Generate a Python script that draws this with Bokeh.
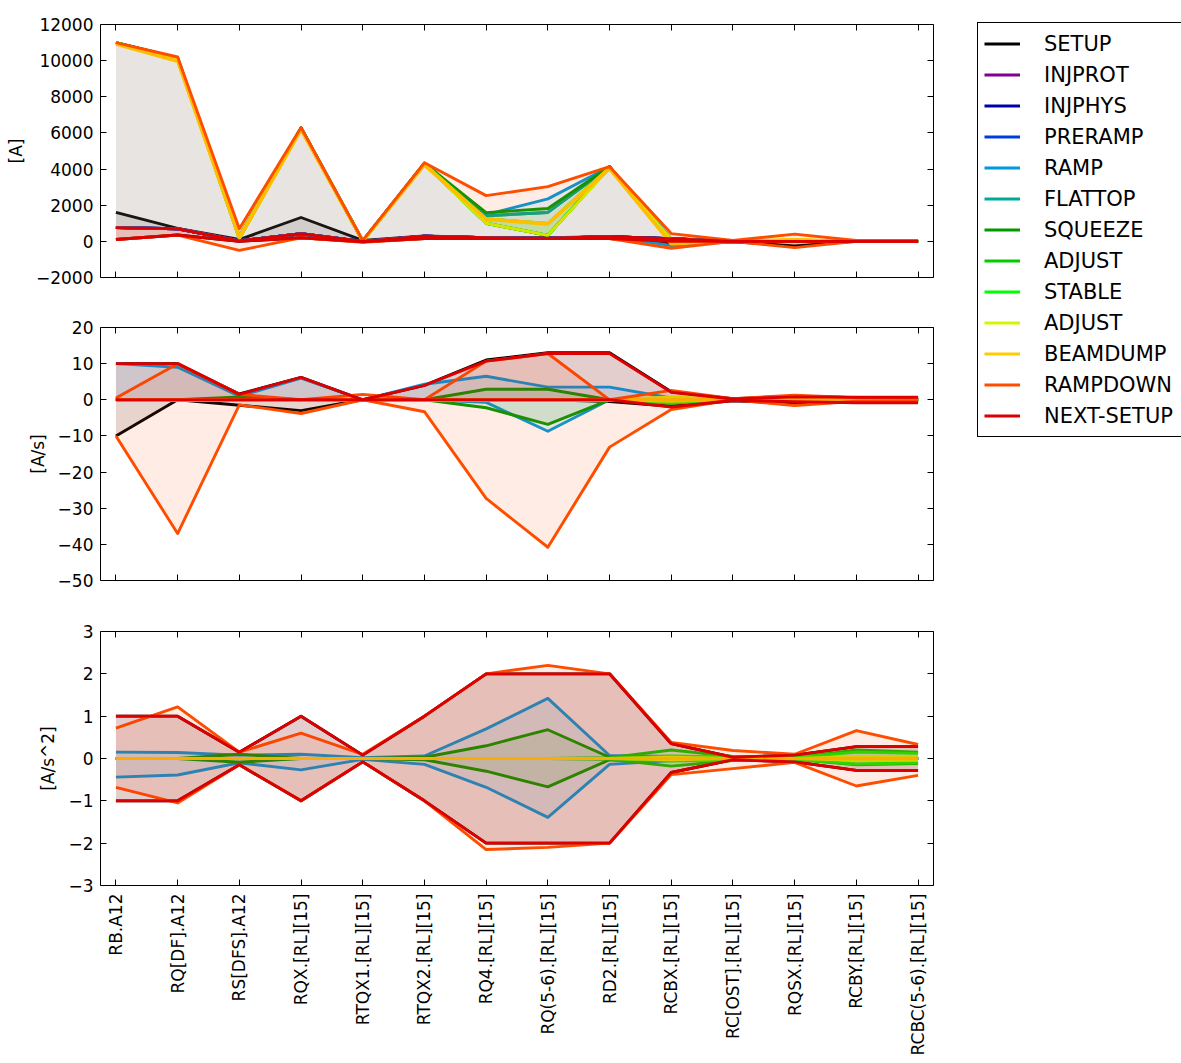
import math
from bokeh.plotting import figure
from bokeh.models import Range1d, FixedTicker, LinearAxis, Legend, LegendItem
from bokeh.layouts import column, row
from bokeh.embed import file_html
from bokeh.resources import INLINE

# ---------------- data ----------------
CATEGORIES = ["RB.A12", "RQ[DF].A12", "RS[DFS].A12", "RQX.[RL][15]", "RTQX1.[RL][15]",
              "RTQX2.[RL][15]", "RQ4.[RL][15]", "RQ(5-6).[RL][15]", "RD2.[RL][15]",
              "RCBX.[RL][15]", "RC[OST].[RL][15]", "RQSX.[RL][15]", "RCBY.[RL][15]",
              "RCBC(5-6).[RL][15]"]

PHASES = ["SETUP", "INJPROT", "INJPHYS", "PRERAMP", "RAMP", "FLATTOP", "SQUEEZE",
          "ADJUST", "STABLE", "ADJUST", "BEAMDUMP", "RAMPDOWN", "NEXT-SETUP"]
PHASE_COLORS = ["#000000", "#800091", "#0000aa", "#003bdd", "#0099dd", "#00aa99", "#009900",
                "#00cc00", "#00ff00", "#d4f600", "#ffcc00", "#ff4d00", "#dd0000"]

Y1_TICKS = [-2000, 0, 2000, 4000, 6000, 8000, 10000, 12000]
Y1_LABELS = ["\u22122000", "0", "2000", "4000", "6000", "8000", "10000", "12000"]
Y2_TICKS = [-50, -40, -30, -20, -10, 0, 10, 20]
Y2_LABELS = ["\u221250", "\u221240", "\u221230", "\u221220", "\u221210", "0", "10", "20"]
Y3_TICKS = [-3, -2, -1, 0, 1, 2, 3]
Y3_LABELS = ["\u22123", "\u22122", "\u22121", "0", "1", "2", "3"]

# current [A]
INJ_LEVEL = [760, 700, 30, 420, 0, 280, 200, 180, 260, 150, 0, 0, 0, 0]
SETUP_I_MAX = [1600, 720, 100, 1320, 50, 300, 200, 200, 260, 150, 20, 0, 0, 0]
SETUP_I_MIN = [100, 350, 0, 200, -30, 160, 150, 150, 160, -100, -20, -250, 0, 0]
RAMP_I_MAX = [11000, 10150, 300, 6280, 40, 4320, 1480, 2350, 4130, 150, 20, 0, 0, 0]
RAMP_I_MIN = [760, 700, 30, 420, 0, 280, 200, 180, 260, -230, -20, 0, 0, 0]
FLATTOP_I = [11000, 10150, 200, 6280, 20, 4320, 1420, 1600, 4130, -30, 0, 0, 0, 0]
SQUEEZE_I_MAX = [11000, 10150, 250, 6280, 20, 4320, 1590, 1820, 4130, 50, 20, 50, 0, 0]
SQUEEZE_I_MIN = [11000, 10150, 150, 6280, 0, 4300, 1000, 330, 4130, -100, -20, 0, 0, 0]
ADJUST_I_MAX = [11000, 10100, 250, 6250, 20, 4300, 1250, 990, 4100, 50, 0, 50, 0, 0]
ADJUST_I_MIN = [11000, 10100, 150, 6250, 0, 4300, 1000, 330, 4100, -100, 0, 0, 0, 0]
STABLE_I_MAX = [11000, 10100, 200, 6250, 10, 4300, 1000, 330, 4100, 0, 0, 50, 0, 0]
STABLE_I_MIN = [11000, 10100, 200, 6250, 0, 4300, 1000, 330, 4100, -50, 0, 0, 0, 0]
ADJUST2_I_MAX = [11000, 10050, 250, 6220, 20, 4280, 1250, 990, 4080, 100, 0, 100, 0, 0]
ADJUST2_I_MIN = [10950, 10000, 150, 6200, 0, 4250, 1000, 330, 4050, -100, 0, 0, 0, 0]
BEAMDUMP_I_MAX = [10950, 10000, 250, 6200, 20, 4250, 1240, 985, 4050, -100, 0, 100, 0, 0]
BEAMDUMP_I_MIN = [10900, 9950, 150, 6150, 0, 4200, 1200, 950, 4000, -150, 0, 0, 0, 0]
RAMPDOWN_I_MAX = [11000, 10200, 700, 6300, 50, 4350, 2530, 3030, 4130, 430, 50, 400, 50, 50]
RAMPDOWN_I_MIN = [100, 350, -500, 200, -50, 150, 150, 150, 150, -380, 0, -350, 0, 0]
NEXTSETUP_I_MAX = [760, 700, 30, 420, 0, 280, 200, 180, 260, 150, 0, 0, 0, 0]
NEXTSETUP_I_MIN = [100, 350, 0, 200, -30, 160, 150, 150, 160, 0, 0, 0, 0, 0]

# ramp rate [A/s]
ZERO_RATE = [0, 0, 0, 0, 0, 0, 0, 0, 0, 0, 0, 0, 0, 0]
SETUP_DI_MAX = [10, 10, 1.6, 6.2, 0, 4, 11, 13, 13, 2.2, 0.3, 1.0, 0.6, 0.6]
SETUP_DI_MIN = [-10, 0, -1.5, -3, 0, 0, 0, 0, -0.5, -1.8, -0.3, -1.0, -0.6, -0.6]
RAMP_DI_MAX = [10, 9, 1, 6, 0, 4.3, 6.5, 3.5, 3.5, 0.5, 0, 0.2, 0, 0]
RAMP_DI_MIN = [0, 0, 0, 0, 0, 0, -0.7, -8.7, 0, -0.5, 0, 0, 0, 0]
SQUEEZE_DI_MAX = [0, 0, 0.8, 0, 0, 0, 2.9, 2.9, 0, 0.3, 0, 0, 0, 0]
SQUEEZE_DI_MIN = [0, 0, 0, 0, 0, 0, -2.2, -6.8, 0, -0.3, 0, 0, 0, 0]
ADJUST_DI_MAX = [0, 0, 0, 0, 0, 0, 0, 0, 0, 0.6, 0, 0.2, 0.2, 0.2]
ADJUST_DI_MIN = [0, 0, 0, 0, 0, 0, 0, 0, 0, -1.0, 0, -0.2, -0.2, -0.2]
STABLE_DI_MAX = [0, 0, 0, 0, 0, 0, 0, 0, 0, 0.3, 0, 0, 0.1, 0.1]
STABLE_DI_MIN = [0, 0, 0, 0, 0, 0, 0, 0, 0, -0.8, 0, 0, -0.1, -0.1]
ADJUST2_DI_MAX = [0, 0, 0, 0, 0, 0, 0, 0, 0, 0.8, 0, 0.1, 0.1, 0.1]
ADJUST2_DI_MIN = [0, 0, 0, 0, 0, 0, 0, 0, 0, -0.4, 0, 0, -0.1, -0.1]
RAMPDOWN_DI_MAX = [0.5, 10, 1.5, 0, 1.5, 0, 10.7, 12.8, 0, 2.6, 0.3, 1.3, 0.6, 0.5]
RAMPDOWN_DI_MIN = [-10, -37, -1.4, -3.8, 0, -3.3, -27.3, -40.8, -13.1, -2.7, 0, -1.6, -0.4, -0.3]
NEXTSETUP_DI_MAX = [10, 10, 1.5, 6.2, 0, 4, 10.7, 12.8, 12.8, 2.1, 0.2, 0.8, 0.7, 0.7]
NEXTSETUP_DI_MIN = [0, 0, 0, 0, 0, 0, 0, 0, 0, -2.0, -0.2, -0.5, -0.8, -0.8]

# ramp acceleration [A/s^2]
ZERO_ACC = [0, 0, 0, 0, 0, 0, 0, 0, 0, 0, 0, 0, 0, 0]
SETUP_D2_MAX = [1, 1, 0.15, 1, 0.08, 1, 2, 2, 2, 0.35, 0.03, 0.08, 0.28, 0.28]
SETUP_D2_MIN = [-1, -1, -0.15, -1, -0.08, -1, -2, -2, -2, -0.33, -0.03, -0.08, -0.28, -0.28]
RAMP_D2_MAX = [0.15, 0.14, 0.08, 0.1, 0.02, 0.06, 0.7, 1.42, 0.07, 0.05, 0, 0, 0, 0]
RAMP_D2_MIN = [-0.44, -0.39, -0.1, -0.27, -0.02, -0.14, -0.68, -1.39, -0.14, -0.05, 0, 0, 0, 0]
SQUEEZE_D2_MAX = [0, 0, 0.1, 0, 0, 0.03, 0.3, 0.68, 0.03, 0.05, 0, 0, 0, 0]
SQUEEZE_D2_MIN = [0, 0, -0.09, 0, 0, -0.03, -0.3, -0.67, -0.03, -0.05, 0, 0, 0, 0]
ADJUST_D2_MAX = [0, 0, 0, 0, 0, 0, 0, 0, 0.02, 0.2, 0.05, 0.02, 0.2, 0.15]
ADJUST_D2_MIN = [0, 0, 0, 0, 0, 0, 0, 0, -0.02, -0.18, -0.05, -0.02, -0.15, -0.12]
STABLE_D2_MAX = [0, 0, 0, 0, 0, 0, 0, 0, 0, 0.06, 0.03, 0.02, 0.15, 0.12]
STABLE_D2_MIN = [0, 0, 0, 0, 0, 0, 0, 0, 0, -0.06, -0.03, -0.02, -0.13, -0.1]
ADJUST2_D2_MAX = [0, 0, 0, 0, 0, 0, 0, 0, 0, 0.03, 0, 0, 0.04, 0.04]
ADJUST2_D2_MIN = [0, 0, 0, 0, 0, 0, 0, 0, 0, -0.03, 0, 0, -0.04, -0.04]
RAMPDOWN_D2_MAX = [0.72, 1.22, 0.15, 0.6, 0.1, 1, 2, 2.2, 2, 0.38, 0.19, 0.1, 0.66, 0.33]
RAMPDOWN_D2_MIN = [-0.68, -1.05, -0.15, -1, -0.08, -1, -2.15, -2.1, -2, -0.38, -0.24, -0.09, -0.65, -0.4]
NEXTSETUP_D2_MAX = [1, 1, 0.15, 1, 0.08, 1, 2, 2, 2, 0.35, 0.03, 0.08, 0.28, 0.28]
NEXTSETUP_D2_MIN = [-1, -1, -0.15, -1, -0.08, -1, -2, -2, -2, -0.33, -0.03, -0.08, -0.28, -0.28]

# (max, min) per phase, per panel
PANEL_I = [(SETUP_I_MAX, SETUP_I_MIN), (INJ_LEVEL, INJ_LEVEL), (INJ_LEVEL, INJ_LEVEL),
           (INJ_LEVEL, INJ_LEVEL), (RAMP_I_MAX, RAMP_I_MIN), (FLATTOP_I, FLATTOP_I),
           (SQUEEZE_I_MAX, SQUEEZE_I_MIN), (ADJUST_I_MAX, ADJUST_I_MIN),
           (STABLE_I_MAX, STABLE_I_MIN), (ADJUST2_I_MAX, ADJUST2_I_MIN),
           (BEAMDUMP_I_MAX, BEAMDUMP_I_MIN), (RAMPDOWN_I_MAX, RAMPDOWN_I_MIN),
           (NEXTSETUP_I_MAX, NEXTSETUP_I_MIN)]
PANEL_DI = [(SETUP_DI_MAX, SETUP_DI_MIN), (ZERO_RATE, ZERO_RATE), (ZERO_RATE, ZERO_RATE),
            (ZERO_RATE, ZERO_RATE), (RAMP_DI_MAX, RAMP_DI_MIN), (ZERO_RATE, ZERO_RATE),
            (SQUEEZE_DI_MAX, SQUEEZE_DI_MIN), (ADJUST_DI_MAX, ADJUST_DI_MIN),
            (STABLE_DI_MAX, STABLE_DI_MIN), (ADJUST2_DI_MAX, ADJUST2_DI_MIN),
            (ZERO_RATE, ZERO_RATE), (RAMPDOWN_DI_MAX, RAMPDOWN_DI_MIN),
            (NEXTSETUP_DI_MAX, NEXTSETUP_DI_MIN)]
PANEL_D2 = [(SETUP_D2_MAX, SETUP_D2_MIN), (ZERO_ACC, ZERO_ACC), (ZERO_ACC, ZERO_ACC),
            (ZERO_ACC, ZERO_ACC), (RAMP_D2_MAX, RAMP_D2_MIN), (ZERO_ACC, ZERO_ACC),
            (SQUEEZE_D2_MAX, SQUEEZE_D2_MIN), (ADJUST_D2_MAX, ADJUST_D2_MIN),
            (STABLE_D2_MAX, STABLE_D2_MIN), (ADJUST2_D2_MAX, ADJUST2_D2_MIN),
            (ZERO_ACC, ZERO_ACC), (RAMPDOWN_D2_MAX, RAMPDOWN_D2_MIN),
            (NEXTSETUP_D2_MAX, NEXTSETUP_D2_MIN)]

# ---------------- drawing ----------------
FONT = "DejaVu Sans"
FS = "17px"
LEG_FS = "21px"
LW = 2.9
X = list(range(len(CATEGORIES)))
X_TICKS = list(range(len(CATEGORIES)))
RIGHT_BORDER = 40


def style_axis(ax, ticks, labels=None, standoff=7):
    ax.ticker = FixedTicker(ticks=ticks)
    ax.major_tick_in = 6
    ax.major_tick_out = 0
    ax.minor_tick_in = 0
    ax.minor_tick_out = 0
    ax.minor_tick_line_color = None
    ax.axis_line_color = None
    ax.major_tick_line_color = "black"
    ax.major_tick_line_width = 1
    if labels is None:
        ax.major_label_text_font_size = "0px"
        ax.major_label_standoff = 0
        ax.major_label_text_color = None
    else:
        ax.major_label_overrides = {t: l for t, l in zip(ticks, labels)}
        ax.major_label_text_font = FONT
        ax.major_label_text_font_size = FS
        ax.major_label_text_color = "black"
        ax.major_label_standoff = standoff


def make_panel(yr, yticks, ylabels, ylabel, frame_h, top_b, bottom_b, data, xlabels):
    p = figure(frame_width=833, frame_height=frame_h,
               x_range=Range1d(-0.25, len(CATEGORIES) - 0.75), y_range=Range1d(*yr),
               output_backend="svg", toolbar_location=None,
               min_border_left=100, min_border_right=RIGHT_BORDER,
               min_border_top=top_b, min_border_bottom=bottom_b,
               background_fill_color="white", border_fill_color="white")
    p.xgrid.visible = False
    p.ygrid.visible = False
    p.outline_line_color = "black"
    p.outline_line_width = 1
    p.outline_line_alpha = 1

    style_axis(p.yaxis[0], yticks, ylabels, standoff=7)
    p.yaxis[0].axis_label = ylabel
    p.yaxis[0].axis_label_text_font = FONT
    p.yaxis[0].axis_label_text_font_size = FS
    p.yaxis[0].axis_label_text_font_style = "normal"
    p.yaxis[0].axis_label_text_color = "black"
    p.yaxis[0].axis_label_standoff = 7

    if xlabels:
        style_axis(p.xaxis[0], X_TICKS, CATEGORIES, standoff=8)
        p.xaxis[0].major_label_orientation = math.pi / 2
    else:
        style_axis(p.xaxis[0], X_TICKS, None)

    top = LinearAxis()
    style_axis(top, X_TICKS, None)
    p.add_layout(top, "above")
    right = LinearAxis()
    style_axis(right, yticks, None)
    p.add_layout(right, "right")

    for color, (hi, lo) in zip(PHASE_COLORS, data):
        p.varea(x=X, y1=lo, y2=hi, fill_color=color, fill_alpha=0.1)
        p.line(X, hi, line_color=color, line_width=LW, line_join="round")
        p.line(X, lo, line_color=color, line_width=LW, line_join="round")
    return p


p1 = make_panel((-2000, 12000), Y1_TICKS, Y1_LABELS, "[A]", 253, 24, 25, PANEL_I, False)
p2 = make_panel((-50, 20), Y2_TICKS, Y2_LABELS, "[A/s]", 253, 25, 25, PANEL_DI, False)
p3 = make_panel((-3, 3), Y3_TICKS, Y3_LABELS, "[A/s^2]", 254, 26, 170, PANEL_D2, True)

# legend panel (its own canvas to the right of the panels)
LEG_ROW = 29
LEG_SPACING = 2
LEG_PAD = 6
leg_h = 2 * LEG_PAD + len(PHASES) * LEG_ROW + (len(PHASES) - 1) * LEG_SPACING
leg_frame_w = 1181 - (100 + 833 + RIGHT_BORDER)
leg_frame_h = leg_h + 6

pleg = figure(frame_width=leg_frame_w, frame_height=leg_frame_h,
              x_range=Range1d(100, 101), y_range=Range1d(1e6, 1e6 + 1),
              output_backend="svg", toolbar_location=None,
              x_axis_location=None, y_axis_location=None,
              min_border_left=0, min_border_right=0, min_border_top=22, min_border_bottom=0,
              background_fill_color="white", border_fill_color="white", align="start")
pleg.outline_line_color = None
pleg.grid.visible = False
leg_renderers = []
for color, (hi, lo) in zip(PHASE_COLORS, PANEL_I):
    leg_renderers.append(pleg.line(X, hi, line_color=color, line_width=LW))

legend = Legend(items=[LegendItem(label=n, renderers=[r]) for n, r in zip(PHASES, leg_renderers)],
                location=(4, leg_frame_h - 2 - leg_h),
                border_line_color="black", border_line_width=1, border_line_alpha=1,
                background_fill_color="white", background_fill_alpha=1,
                label_text_font=FONT, label_text_font_size=LEG_FS, label_text_color="black",
                glyph_width=36, glyph_height=LEG_ROW, label_height=LEG_ROW, label_width=150,
                label_standoff=24, spacing=LEG_SPACING, padding=LEG_PAD, margin=0)
pleg.add_layout(legend, "center")

layout = row(column(p1, p2, p3, spacing=0), pleg, spacing=0)
open("out.html", "w").write(file_html(layout, INLINE))
